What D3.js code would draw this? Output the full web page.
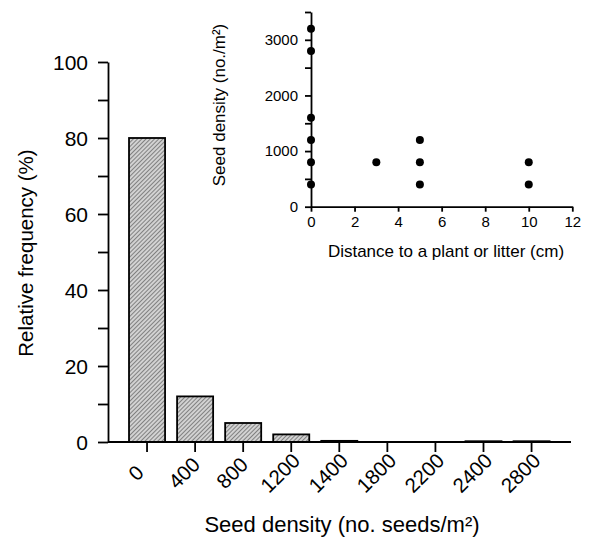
<!DOCTYPE html>
<html lang="en">
<head>
<meta charset="UTF-8">
<title>Seed density frequency</title>
<script src="https://d3js.org/d3.v7.min.js"></script>
<style>
  body { margin: 0; background: #fff; }
  svg { display: block; font-family: "Liberation Sans", Arial, sans-serif; }
  .axis { font-family: "Liberation Sans", Arial, sans-serif; }
  .axis path, .axis line { stroke: #000; stroke-width: 1.8px; }
  .axis text { fill: #000; }
</style>
</head>
<body>
<div id="chart"></div>
<script>
// main histogram
const densityCats = ["0", "400", "800", "1200", "1400", "1800", "2200", "2400", "2800"];
const relFreq = [80, 12, 5, 2, 0.3, 0, 0, 0.2, 0.2];
const freqTicks = [0, 20, 40, 60, 80, 100];

// inset scatter
const distance = [0, 0, 0, 0, 0, 0, 3, 5, 5, 5, 10, 10];
const seedDensity = [3200, 2800, 1600, 1200, 800, 400, 800, 1200, 800, 400, 800, 400];
const insetXTicks = [0, 2, 4, 6, 8, 10, 12];
const insetYTicks = [0, 1000, 2000, 3000];

const svg = d3.select("#chart").append("svg")
    .attr("width", 591)
    .attr("height", 537);

const defs = svg.append("defs");
const pat = defs.append("pattern")
    .attr("id", "hatch")
    .attr("patternUnits", "userSpaceOnUse")
    .attr("width", 3)
    .attr("height", 3)
    .attr("patternTransform", "rotate(45)");
pat.append("rect").attr("width", 3).attr("height", 3).attr("fill", "#d2d2d2");
pat.append("line").attr("x1", 0).attr("y1", 0).attr("x2", 0).attr("y2", 3)
    .attr("stroke", "#555").attr("stroke-width", 1.3);

// ---- main chart ----
const x = d3.scaleBand()
    .domain(densityCats)
    .range([117, 561.6])
    .padding(0.25);

const y = d3.scaleLinear()
    .domain([0, 100])
    .range([442, 62]);

svg.append("g")
    .selectAll("rect")
    .data(densityCats.map((c, i) => ({ c: c, v: relFreq[i] })))
    .enter().append("rect")
    .attr("x", d => x(d.c))
    .attr("y", d => y(d.v))
    .attr("width", x.bandwidth())
    .attr("height", d => y(0) - y(d.v))
    .attr("fill", "url(#hatch)")
    .attr("stroke", "#000")
    .attr("stroke-width", 1.8);

// y axis
const yAxis = svg.append("g")
    .attr("class", "axis")
    .attr("transform", "translate(108,0)")
    .call(d3.axisLeft(y).tickValues(d3.range(0, 101, 10)).tickSize(10).tickPadding(10).tickSizeOuter(0)
        .tickFormat(d => freqTicks.includes(d) ? d : ""));
yAxis.selectAll("text").attr("font-size", 21).attr("dy", "0.38em");

// x axis
const xAxis = svg.append("g")
    .attr("class", "axis")
    .attr("transform", "translate(0,442)")
    .call(d3.axisBottom(x).tickSize(10).tickSizeOuter(0));
xAxis.select(".domain").remove();
xAxis.append("line")
    .attr("x1", 108).attr("x2", 571)
    .attr("y1", 0).attr("y2", 0)
    .attr("stroke", "#000").attr("stroke-width", 1.8);
xAxis.selectAll(".tick text")
    .attr("font-size", 20.5)
    .attr("text-anchor", "middle")
    .attr("x", 0)
    .attr("y", 0)
    .attr("dy", 0)
    .attr("transform", "translate(-6,36) rotate(-45)");

svg.append("text")
    .attr("x", 342)
    .attr("y", 532)
    .attr("text-anchor", "middle")
    .attr("font-size", 22)
    .text("Seed density (no. seeds/m²)");

svg.append("text")
    .attr("transform", "translate(33,253) rotate(-90)")
    .attr("text-anchor", "middle")
    .attr("font-size", 20.5)
    .text("Relative frequency (%)");

// ---- inset ----
const ix = d3.scaleLinear().domain([0, 12]).range([311, 572.3]);
const iy = d3.scaleLinear().domain([0, 3500]).range([206.7, 12]);

const ixAxis = svg.append("g")
    .attr("class", "axis")
    .attr("transform", "translate(0,206.7)")
    .call(d3.axisBottom(ix).tickValues(insetXTicks).tickSize(5).tickPadding(5).tickSizeOuter(0));
ixAxis.selectAll("text").attr("font-size", 15);

const iyAxis = svg.append("g")
    .attr("class", "axis")
    .attr("transform", "translate(311,0)")
    .call(d3.axisLeft(iy).tickValues(d3.range(0, 3501, 500)).tickSize(6).tickPadding(7).tickSizeOuter(0)
        .tickFormat(d => insetYTicks.includes(d) ? d : ""));
iyAxis.selectAll("text").attr("font-size", 15);

svg.append("g")
    .selectAll("circle")
    .data(distance.map((d, i) => ({ d: d, s: seedDensity[i] })))
    .enter().append("circle")
    .attr("cx", d => ix(d.d))
    .attr("cy", d => iy(d.s))
    .attr("r", 4)
    .attr("fill", "#000");

svg.append("text")
    .attr("x", 446)
    .attr("y", 257)
    .attr("text-anchor", "middle")
    .attr("font-size", 17)
    .text("Distance to a plant or litter (cm)");

svg.append("text")
    .attr("transform", "translate(225,105) rotate(-90)")
    .attr("text-anchor", "middle")
    .attr("font-size", 17)
    .text("Seed density (no./m²)");
</script>
</body>
</html>
